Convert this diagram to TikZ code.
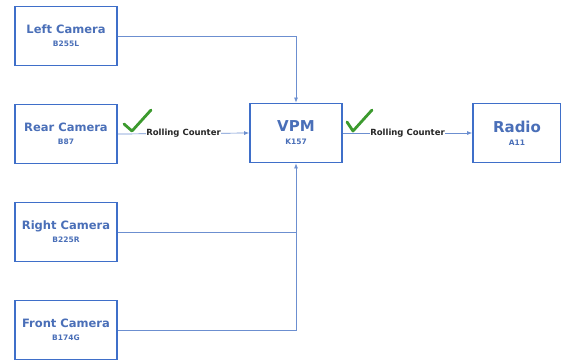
\documentclass[tikz,border=0pt]{standalone}
\usepackage{fontspec}
\setmainfont{DejaVu Sans}
\usepackage{xcolor}
\usetikzlibrary{arrows.meta,positioning}

\definecolor{boxblue}{HTML}{3F6FC9}
\definecolor{textblue}{HTML}{4A6FB8}
\definecolor{lineblue}{HTML}{6C8FD0}
\definecolor{checkgreen}{HTML}{3C9A2E}

\newcommand{\unitname}[1]{{\fontsize{11.5}{13}\selectfont #1}}
\newcommand{\bigname}[1]{{\fontsize{15}{17}\selectfont #1}}
\newcommand{\partno}[1]{{\fontsize{7.5}{9}\selectfont #1}}

\tikzset{
    unit/.style={draw=boxblue, line width=1.8pt, fill=white, minimum width=102pt,
        minimum height=59pt, inner xsep=1pt, align=center, text=textblue, font=\bfseries},
    wire/.style={draw=lineblue, line width=0.7pt},
    flow/.style={wire, -{Latex[length=5pt,width=4pt]}},
    tag/.style={fill=white, inner sep=0.5pt, text=black!85, font=\bfseries\fontsize{8.5}{10}\selectfont},
    check/.style={draw=checkgreen, line width=2.8pt, line cap=round, line join=round}
}

\begin{document}
\begin{tikzpicture}[x=1pt,y=-1pt]
    \useasboundingbox (0,0) rectangle (561,360);

    % Camera units
    \node[unit] (left)  at (66,36)  {\unitname{Left Camera}\\[1pt]\partno{B255L}};
    \node[unit] (rear)  at (66,134) {\unitname{Rear Camera}\\[1pt]\partno{B87}};
    \node[unit] (right) at (66,232) {\unitname{Right Camera}\\[1pt]\partno{B225R}};
    \node[unit] (front) at (66,330) {\unitname{Front Camera}\\[1pt]\partno{B174G}};

    % VPM and radio
    \node[unit, minimum width=92pt] (vpm) at (296,133) {\bigname{VPM}\\[1pt]\partno{K157}};
    \node[unit, minimum width=88pt] (radio) at (517,133) {\bigname{Radio}\\[1pt]\partno{A11}};

    % Wires into the VPM
    \coordinate (topbend) at (vpm.north |- left.east);
    \coordinate (rbend) at (vpm.south |- right.east);
    \coordinate (fbend) at (vpm.south |- front.east);
    \draw[wire] (left.east) -- (topbend);
    \draw[flow] (topbend) -- (vpm.north);
    \draw[wire] (front.east) -- (fbend) -- (rbend);
    \draw[wire] (right.east) -- (rbend);
    \draw[flow] (rbend) -- (vpm.south);

    % Rolling counter links
    \draw[flow] (rear.east) -- node[tag] (rc1) {Rolling Counter} (vpm.west);
    \draw[flow] (vpm.east) -- node[tag] (rc2) {Rolling Counter} (radio.west);

    % Check marks
    \draw[check] (124,124) -- (132,131) -- (151,110);
    \draw[check] (347,122) -- (353,131) -- (372,110);
\end{tikzpicture}
\end{document}
